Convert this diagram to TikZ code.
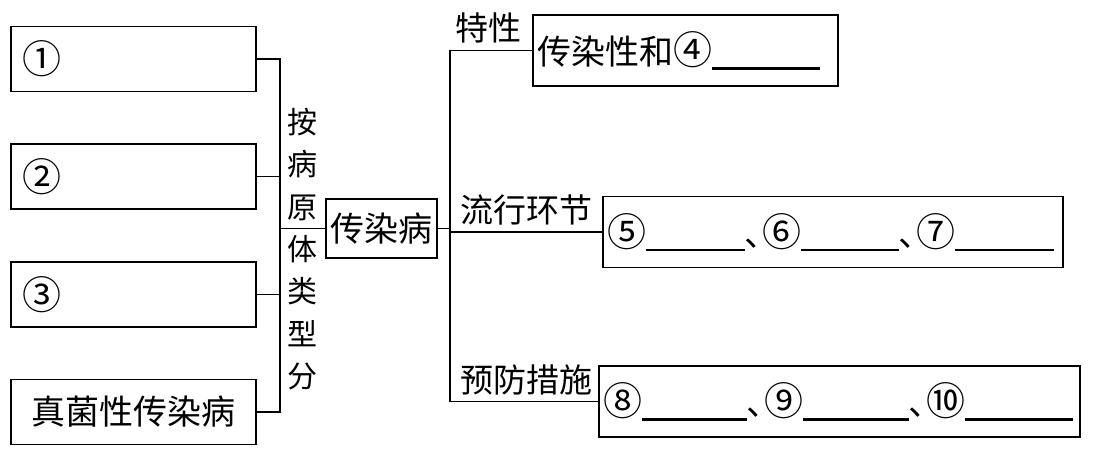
\documentclass[tikz,border=0pt]{standalone}
\usepackage{fontspec}
\setmainfont{Noto Sans CJK SC}
\usepackage{tikz}
\usetikzlibrary{positioning}
\newcommand{\blank}[1]{\rule[-2.5pt]{#1}{1.1pt}}
\newcommand{\dun}{､}
\newcommand{\cn}[1]{{\fontsize{19.5pt}{20pt}\selectfont#1}}

\begin{document}
\begin{tikzpicture}
        [x=0.5pt, y=-0.5pt, line width=0.9pt,
         leftbox/.style={draw, minimum width=122.5pt, minimum height=32.5pt,
           text width=110.5pt, inner xsep=6pt, align=left,
           font=\fontsize{17pt}{20pt}\selectfont},
         midbox/.style={draw, minimum width=55.5pt, minimum height=29.5pt,
           inner xsep=1pt, font=\fontsize{17pt}{20pt}\selectfont},
         rbox/.style={draw, text width=#1, inner xsep=2pt, minimum height=35.5pt,
           align=left, font=\fontsize{17pt}{20pt}\selectfont},
         vtext/.style={align=center, inner sep=0pt,
           font=\fontsize{15pt}{21.2pt}\selectfont},
         lab/.style={inner sep=0pt, font=\fontsize{16.5pt}{20pt}\selectfont}]
      \useasboundingbox (0,0) rectangle (1098,456);
      \node[leftbox]  (b1) at (133.5,59)    {\cn{①}};
      \node[leftbox]  (b2) at (133.5,176.5) {\cn{②}};
      \node[leftbox]  (b3) at (133.5,294.5) {\cn{③}};
      \node[leftbox, align=center] (b4) at (133.5,412) {真菌性传染病};
      \node[midbox]   (main) at (381.5,228.5) {传染病};
      \node[vtext]    (kind) at (302,249) {按\\病\\原\\体\\类\\型\\分};
      \node[rbox=148.5pt] (tx) at (685.5,50.5) {传染性和\cn{④}\blank{54pt}};
      \node[rbox=226pt]   (lx) at (833,232)
        {\cn{⑤}\blank{49.5pt}\dun\cn{⑥}\blank{49pt}\dun\cn{⑦}\blank{49.5pt}};
      \node[rbox=236.5pt] (yf) at (839.5,401.5)
        {\cn{⑧}\blank{52.5pt}\dun\cn{⑨}\blank{53pt}\dun\cn{⑩}\blank{54pt}};
      \coordinate (jl) at (280,228.5);
      \coordinate (jr) at (450,228.5);
      \coordinate (ctx) at (tx.west -| jr);
      \coordinate (clx) at (lx.west -| jr);
      \coordinate (cyf) at (yf.west -| jr);
      \draw (b1.east) -| (jl) |- (b4.east);
      \draw (b2.east) -- (b2.east -| jl);
      \draw (b3.east) -- (b3.east -| jl);
      \draw (jl) -- (main.west);
      \draw (main.east) -- (jr);
      \draw (tx.west) -- (ctx) -- (cyf) -- (yf.west);
      \draw (lx.west) -- (clx);
      \node[lab, above right=3pt and 2.5pt of ctx] (ltx) {特性};
      \node[lab, above right=3pt and 5pt of clx]   (llx) {流行环节};
      \node[lab, above right=2.5pt and 5pt of cyf] (lyf) {预防措施};
      \end{tikzpicture}
\end{document}
